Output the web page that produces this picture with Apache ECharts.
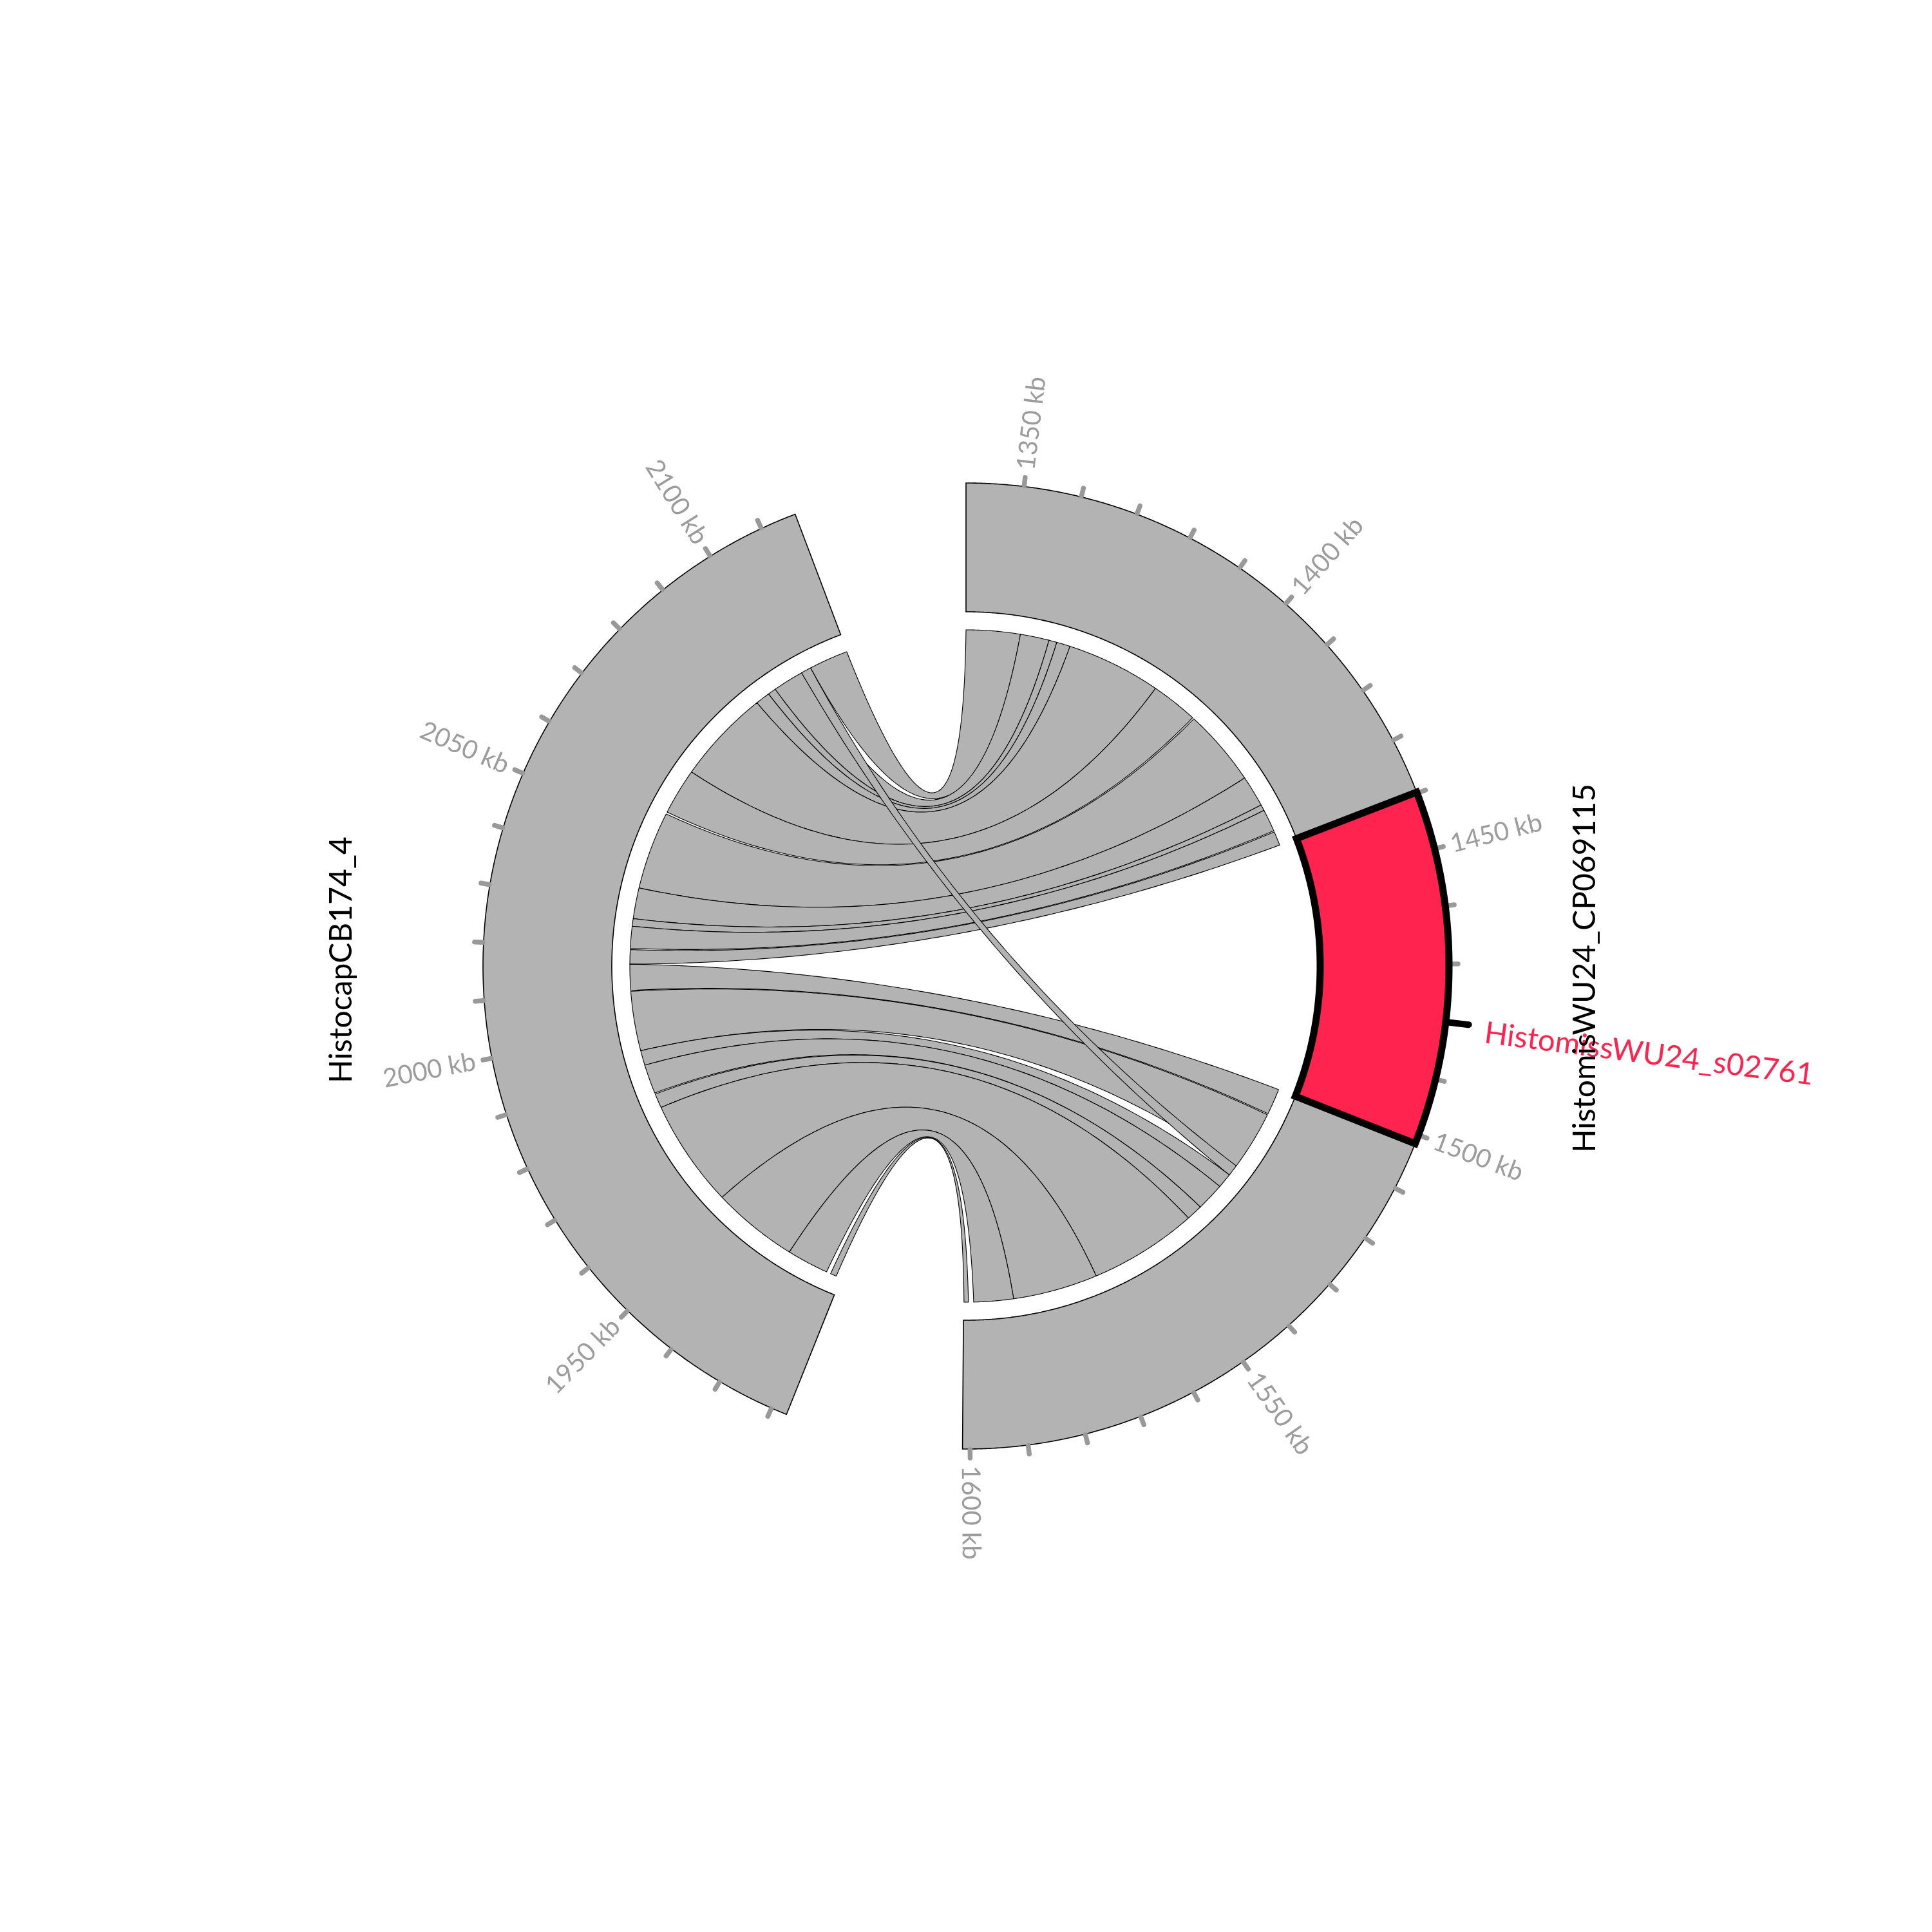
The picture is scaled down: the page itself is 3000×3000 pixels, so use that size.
<!DOCTYPE html>
<html>
<head>
<meta charset="utf-8">
<script src="https://cdn.jsdelivr.net/npm/echarts@6/dist/echarts.min.js"></script>
<style>html,body{margin:0;padding:0;background:#fff}#c{width:3000px;height:3000px}</style>
</head>
<body>
<div id="c"></div>
<script>
// ---------------- data ----------------
const SECTOR_NAMES = ['HistomisWU24_CP069115', 'HistocapCB174_4'];
const SECTOR_START = [1340, 1917.2];      // kb
const SECTOR_END   = [1601.3, 2116.3];    // kb
const SECTOR_GAP_AFTER = [31, 30];        // kb-equivalent gap after each sector

const RIGHT_TICK_LABELS = [1350, 1400, 1450, 1500, 1550, 1600];
const LEFT_TICK_LABELS  = [1950, 2000, 2050, 2100];
const TICK_STEP = 10;

// links: interval on HistomisWU24_CP069115 -> interval on HistocapCB174_4 (kb)
const LINK_R_START = [1340, 1353.5, 1360.7, 1362.7, 1366.1, 1389.7, 1401.8, 1421.1, 1428.9, 1430.4, 1436.3,
                      1501.6, 1508.4, 1526.0, 1529.7, 1536.7, 1540.7, 1567.7, 1588.9, 1600.1, 1523.2];
const LINK_R_END   = [1353.5, 1360.7, 1362.7, 1366.1, 1389.7, 1401.4, 1421.1, 1428.9, 1430.4, 1436.0, 1439.8,
                      1508.1, 1523.2, 1529.7, 1536.7, 1540.7, 1567.7, 1588.9, 1598.8, 1601.2, 1526.0];
const LINK_L_START = [2106.4, 2096.2, 2094.2, 2090.6, 2067.0, 2055.4, 2035.4, 2027.7, 2025.8, 2020.3, 2016.4,
                      2009.9, 1994.8, 1991.1, 1983.8, 1979.9, 1953.0, 1931.5, 1921.1, 1918.5, 2103.9];
const LINK_L_END   = [2116.2, 2103.9, 2096.2, 2094.2, 2090.6, 2067.0, 2054.9, 2035.4, 2027.7, 2025.8, 2020.0,
                      2016.4, 2009.7, 1994.8, 1991.1, 1983.5, 1979.9, 1953.0, 1931.5, 1920.0, 2106.4];

const HIGHLIGHT_START = 1439.8;
const HIGHLIGHT_END = 1501.6;
const HIGHLIGHT_MARK = 1480;
const HIGHLIGHT_LABEL_POS = 1481;
const HIGHLIGHT_NAME = 'HistomissWU24_s02761';

// ---------------- layout helpers ----------------
const OFFSET = [0, (SECTOR_END[0] - SECTOR_START[0]) + SECTOR_GAP_AFTER[0]];
const TOTAL = OFFSET[1] + (SECTOR_END[1] - SECTOR_START[1]) + SECTOR_GAP_AFTER[1];
function gpos(kb, s) { return OFFSET[s] + (kb - SECTOR_START[s]); }

const R_OUT = 750, R_IN = 550, R_LINK = 522;
const GREY = '#b3b3b3';
const FONT = 'Lato';

function arcPts(api, r, g1, g2) {
  const n = Math.max(2, Math.ceil(Math.abs(g2 - g1) * 3));
  const pts = [];
  for (let i = 0; i <= n; i++) pts.push(api.coord([r, g1 + (g2 - g1) * i / n]));
  return pts;
}
function bezPts(api, p0, p2) {
  const c0 = api.coord([0, 0]);
  const k = 0.066;
  const mx = (p0[0] + p2[0]) / 2, my = (p0[1] + p2[1]) / 2;
  const cx = c0[0] + k * (mx - c0[0]), cy = c0[1] + k * (my - c0[1]);
  const pts = [];
  const n = 90;
  for (let i = 1; i <= n; i++) {
    const t = i / n, u = 1 - t;
    pts.push([u * u * p0[0] + 2 * u * t * cx + t * t * p2[0], u * u * p0[1] + 2 * u * t * cy + t * t * p2[1]]);
  }
  return pts;
}
function thetaOf(api, g) {
  const c = api.coord([0, 0]);
  const p = api.coord([R_OUT, g]);
  let t = Math.atan2(p[0] - c[0], c[1] - p[1]) * 180 / Math.PI;
  if (t < 0) t += 360;
  return t;
}

// ---------------- series ----------------
const sectorData = SECTOR_START.map((v, i) => [v, SECTOR_END[i], i]);

const tickData = [];
for (let s = 0; s < 2; s++) {
  const first = Math.floor(SECTOR_START[s] / TICK_STEP) * TICK_STEP + TICK_STEP;
  for (let v = first; v <= SECTOR_END[s]; v += TICK_STEP) tickData.push([v, s]);
}
const tickLabelData = RIGHT_TICK_LABELS.map(v => [v, 0]).concat(LEFT_TICK_LABELS.map(v => [v, 1]));
const linkData = LINK_R_START.map((v, i) => [v, LINK_R_END[i], LINK_L_START[i], LINK_L_END[i]]);

const chart = echarts.init(document.getElementById('c'), null, {renderer: 'canvas', width: 3000, height: 3000});

const option = {
  animation: false,
  backgroundColor: '#ffffff',
  polar: {center: [1500, 1500], radius: [0, R_OUT]},
  angleAxis: {type: 'value', min: 0, max: TOTAL, startAngle: 90, clockwise: true, show: false},
  radiusAxis: {type: 'value', min: 0, max: R_OUT, show: false},
  series: [
    { // sector tracks
      type: 'custom', coordinateSystem: 'polar', clip: false, z: 1,
      data: sectorData,
      renderItem(params, api) {
        const s = api.value(2);
        const g1 = gpos(api.value(0), s), g2 = gpos(api.value(1), s);
        const pts = arcPts(api, R_OUT, g1, g2).concat(arcPts(api, R_IN, g2, g1));
        return {type: 'polygon', shape: {points: pts},
          style: {fill: GREY, stroke: '#000', lineWidth: 1.6, lineJoin: 'miter'}};
      }
    },
    { // ticks
      type: 'custom', coordinateSystem: 'polar', clip: false, z: 2,
      data: tickData,
      renderItem(params, api) {
        const g = gpos(api.value(0), api.value(1));
        const p1 = api.coord([R_OUT + 1, g]), p2 = api.coord([R_OUT + 14, g]);
        return {type: 'line', shape: {x1: p1[0], y1: p1[1], x2: p2[0], y2: p2[1]},
          style: {stroke: '#999999', lineWidth: 7.5, lineCap: 'round'}};
      }
    },
    { // tick labels
      type: 'custom', coordinateSystem: 'polar', clip: false, z: 2,
      data: tickLabelData,
      renderItem(params, api) {
        const v = api.value(0);
        const g = gpos(v, api.value(1));
        const th = thetaOf(api, g);
        const p = api.coord([R_OUT + 26, g]);
        const right = th <= 180.5;
        const rot = (right ? 90 - th : 270 - th) * Math.PI / 180;
        return {type: 'text', x: p[0], y: p[1], rotation: rot,
          style: {text: v + ' kb', fill: '#9c9c9c', fontSize: 40, fontFamily: FONT,
            align: right ? 'left' : 'right', verticalAlign: 'middle'}};
      }
    },
    { // links
      type: 'custom', coordinateSystem: 'polar', clip: false, z: 3,
      data: linkData,
      renderItem(params, api) {
        const a1 = gpos(api.value(0), 0), a2 = gpos(api.value(1), 0);
        const b1 = gpos(api.value(2), 1), b2 = gpos(api.value(3), 1);
        let pts = arcPts(api, R_LINK, a1, a2);
        pts = pts.concat(bezPts(api, pts[pts.length - 1], api.coord([R_LINK, b1])));
        const arcB = arcPts(api, R_LINK, b1, b2);
        pts = pts.concat(arcB.slice(1));
        pts = pts.concat(bezPts(api, pts[pts.length - 1], api.coord([R_LINK, a1])));
        return {type: 'polygon', shape: {points: pts},
          style: {fill: GREY, stroke: '#000', lineWidth: 1.1, lineJoin: 'round'}};
      }
    },
    { // highlighted region
      type: 'custom', coordinateSystem: 'polar', clip: false, z: 4,
      data: [[HIGHLIGHT_START, HIGHLIGHT_END]],
      renderItem(params, api) {
        const g1 = gpos(api.value(0), 0), g2 = gpos(api.value(1), 0);
        const pts = arcPts(api, R_OUT, g1, g2).concat(arcPts(api, R_IN, g2, g1));
        return {type: 'polygon', shape: {points: pts},
          style: {fill: '#ff2450', stroke: '#000', lineWidth: 11, lineJoin: 'miter'}};
      }
    },
    { // highlight pointer + label
      type: 'custom', coordinateSystem: 'polar', clip: false, z: 5,
      data: [[HIGHLIGHT_MARK, HIGHLIGHT_LABEL_POS]],
      renderItem(params, api) {
        const g = gpos(api.value(0), 0);
        const gl = gpos(api.value(1), 0);
        const p1 = api.coord([R_OUT + 2, g]), p2 = api.coord([R_OUT + 36, g]);
        const pl = api.coord([R_OUT + 62, gl]);
        const th = thetaOf(api, gl);
        return {type: 'group', children: [
          {type: 'line', shape: {x1: p1[0], y1: p1[1], x2: p2[0], y2: p2[1]},
            style: {stroke: '#000', lineWidth: 10, lineCap: 'round'}},
          {type: 'text', x: pl[0], y: pl[1], rotation: (90 - th) * Math.PI / 180,
            style: {text: HIGHLIGHT_NAME, fill: '#ff2450', fontSize: 47, fontFamily: FONT,
              align: 'left', verticalAlign: 'middle'}}
        ]};
      }
    },
    { // sector names
      type: 'custom', coordinateSystem: 'polar', clip: false, z: 5,
      data: sectorData,
      renderItem(params, api) {
        const s = api.value(2);
        const mid = gpos((api.value(0) + api.value(1)) / 2, s);
        const p = api.coord([s === 0 ? 962 : 970, mid]);
        return {type: 'text', x: p[0], y: p[1], rotation: Math.PI / 2,
          style: {text: SECTOR_NAMES[s], fill: '#000', fontSize: 48, fontFamily: FONT,
            align: 'center', verticalAlign: 'middle'}};
      }
    }
  ]
};
chart.setOption(option);
</script>
</body>
</html>
